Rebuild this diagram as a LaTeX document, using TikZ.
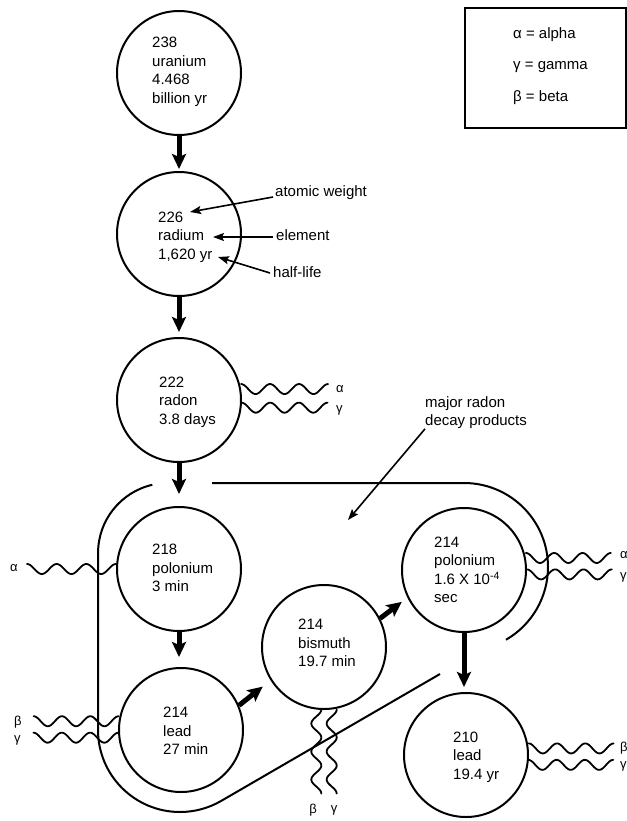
\documentclass[tikz,border=0pt]{standalone}
\usepackage{fontspec}
\setmainfont{Liberation Sans}
\usetikzlibrary{arrows.meta}
\begin{document}
\begin{tikzpicture}[x=1bp,y=1bp,
  nuc/.style={circle,draw,line width=2bp,minimum size=124bp,inner sep=0pt},
  txt/.style={anchor=west,align=left,inner sep=0pt,font=\fontsize{15bp}{18.5bp}\selectfont},
  decay/.style={line width=5bp,-{Stealth[length=15bp,width=14bp,inset=3bp]}},
  note/.style={line width=1.6bp,-{Stealth[length=11bp,width=8bp,inset=2bp]}},
  wave/.style={line width=1.8bp,line cap=round},
  greek/.style={anchor=west,inner sep=0pt,font=\fontsize{13bp}{13bp}\selectfont},
  outline/.style={line width=2bp}
]
\useasboundingbox (0,0) rectangle (627,-821);

% nuclides
\node[nuc] (ur) at (179,-73) {};
\node[nuc] (ra) at (179,-234) {};
\node[nuc] (rn) at (179,-400) {};
\node[nuc] (po) at (179,-569) {};
\node[nuc] (pbA) at (181,-730) {};
\node[nuc] (bi) at (324,-647) {};
\node[nuc] (poB) at (464,-570) {};
\node[nuc] (pbB) at (466,-755) {};

\node[txt] (urt) at (152,-72) {238\\uranium\\4.468\\billion yr};
\node[txt] (rat) at (158,-237) {226\\radium\\1,620 yr};
\node[txt] (rnt) at (159,-402) {222\\radon\\3.8 days};
\node[txt] (pot) at (152,-568) {218\\polonium\\3 min};
\node[txt] (pbAt) at (163,-731) {214\\lead\\27 min};
\node[txt] (bit) at (298,-643) {214\\bismuth\\19.7 min};
\node[txt] (poBt) at (434,-570) {214\\polonium\\1.6 X 10\textsuperscript{-4}\\sec};
\node[txt] (pbBt) at (453,-757) {210\\lead\\19.4 yr};

% decay arrows
\draw[decay,shorten >=2bp] (ur.south) -- (ra.north);
\draw[decay,shorten >=5bp] (ra.south) -- (rn.north);
\draw[decay,shorten >=12bp] (rn.south) -- (po.north);
\draw[decay,shorten >=10bp] (po.south) -- (po.south |- pbA.north);
\draw[decay,shorten >=10bp] (pbA.23) -- (bi.212);
\draw[decay,shorten >=7bp] (bi.27) -- (poB.206);
\draw[decay,shorten >=5bp] (poB.south) -- (poB.south |- pbB.north);

% annotations
\node[txt] (aw) at (275,-193) {atomic weight};
\node[txt] (el) at (276,-235) {element};
\node[txt] (hl) at (273,-272) {half-life};
\coordinate (awT) at (190,-212);
\coordinate (elT) at (213,-237);
\coordinate (hlT) at (218,-257);
\draw[note] ([shift={(-2,-4)}]aw.west) -- (awT);
\draw[note] ([shift={(-3,-2)}]el.west) -- (elT);
\draw[note] ([shift={(-3,-1)}]hl.west) -- (hlT);

\node[txt,anchor=north west] (mr) at (425,-396) {major radon\\decay products};
\coordinate (mrT) at (348,-520);
\draw[note] (mr.south west) -- (mrT);

% legend
\draw[line width=2bp] (465,-8) rectangle (626,-128);
\node[txt] (la) at (513,-35) {α = alpha};
\node[txt] (lg) at (513,-67) {γ = gamma};
\node[txt] (lb) at (513,-98) {β = beta};

% outline of major radon decay products
\draw[outline] (152.3,-484.8) arc[start angle=103,end angle=180,radius=70]
  -- (98,-730) arc[start angle=180,end angle=300,radius=82] -- (440,-674);
\draw[outline] (212,-483) -- (464,-483) arc[start angle=90,end angle=-60,radius=84];

% radiation waves (three periods each)
\draw[wave,shift={(rn.10)}] plot[domain=0:87,samples=90,smooth] (\x,{5*cos(\x/87*1080)});
\draw[wave,shift={(rn.-7)}] plot[domain=0:86,samples=90,smooth] (\x,{5*cos(\x/86*1080)});
\node[greek] (rnAl) at (336,-389) {α};
\node[greek] (rnGl) at (336,-410) {γ};

\draw[wave,shift={(po.180)}] plot[domain=0:-89,samples=90,smooth] (\x,{5*cos(\x/89*1080)});
\node[greek] (poAl) at (10,-568) {α};

\draw[wave,shift={(pbA.172.6)}] plot[domain=0:-85,samples=90,smooth] (\x,{5*cos(\x/85*1080)});
\draw[wave,shift={(pbA.187.4)}] plot[domain=0:-85,samples=90,smooth] (\x,{5*cos(\x/85*1080)});
\node[greek] (pbABl) at (14,-722) {β};
\node[greek] (pbAGl) at (14,-740) {γ};

\draw[wave,shift={(bi.263.5)}] plot[domain=0:-84,samples=90,smooth] ({5*cos(\x/84*1080)},\x);
\draw[wave,shift={(bi.277.4)}] plot[domain=0:-84,samples=90,smooth] ({5*cos(\x/84*1080)},\x);
\node[greek,anchor=center] (biBl) at (313,-810) {β};
\node[greek,anchor=center] (biGl) at (334,-810) {γ};

\draw[wave,shift={(poB.11)}] plot[domain=0:85,samples=90,smooth] (\x,{5*cos(\x/85*1080)});
\draw[wave,shift={(poB.-4.6)}] plot[domain=0:85,samples=90,smooth] (\x,{5*cos(\x/85*1080)});
\node[greek] (poBAl) at (620,-555) {α};
\node[greek] (poBGl) at (620,-577) {γ};

\draw[wave,shift={(pbB.6.5)}] plot[domain=0:85,samples=90,smooth] (\x,{5*cos(\x/85*1080)});
\draw[wave,shift={(pbB.-9.3)}] plot[domain=0:85,samples=90,smooth] (\x,{5*cos(\x/85*1080)});
\node[greek] (pbBBl) at (620,-748) {β};
\node[greek] (pbBGl) at (620,-766) {γ};
\end{tikzpicture}
\end{document}
